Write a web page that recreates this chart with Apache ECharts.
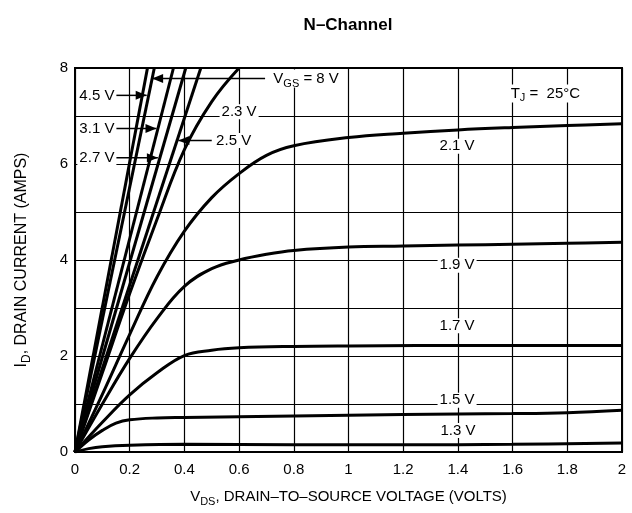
<!DOCTYPE html>
<html><head><meta charset="utf-8">
<script src="https://cdn.jsdelivr.net/npm/echarts@6/dist/echarts.min.js"></script>
<style>html,body{margin:0;padding:0;background:#fff}#c{width:632px;height:513px}</style>
</head><body><div id="c"></div>
<script>
// ---- data ----
const xTickLabels = ['0','0.2','0.4','0.6','0.8','1','1.2','1.4','1.6','1.8','2'];
const yTickLabels = ['0','','2','','4','','6','','8'];
const seriesNames = ['8 V','4.5 V','3.1 V','2.7 V','2.5 V','2.3 V','2.1 V','1.9 V','1.7 V','1.5 V','1.3 V'];
const vgs8V   = [[0,0],[0.265,8]];
const vgs4_5V = [[0,0],[0.29,8]];
const vgs3_1V = [[0,0],[0.36,8]];
const vgs2_7V = [[0,0],[0.405,8]];
const vgs2_5V = [[0,0],[0.46,8]];
const vgs2_3V = [[0,0],[0.1,1.65],[0.2,3.3],[0.3,4.85],[0.4,6.3],[0.5,7.3],[0.6,8]];
const vgs2_1V = [[0,0],[0.1,1.2],[0.2,2.45],[0.3,3.65],[0.4,4.6],[0.5,5.3],[0.6,5.8],[0.7,6.18],[0.8,6.38],[1.0,6.55],[1.2,6.64],[1.4,6.71],[1.6,6.76],[1.8,6.8],[2.0,6.84]];
const vgs1_9V = [[0,0],[0.1,1.0],[0.2,1.95],[0.3,2.78],[0.4,3.45],[0.5,3.82],[0.6,4.0],[0.7,4.12],[0.8,4.2],[1.0,4.27],[1.2,4.29],[1.4,4.31],[1.6,4.33],[1.8,4.35],[2.0,4.37]];
const vgs1_7V = [[0,0],[0.1,0.62],[0.2,1.19],[0.3,1.65],[0.4,2.01],[0.5,2.12],[0.6,2.17],[0.8,2.2],[1.0,2.21],[1.5,2.22],[2.0,2.22]];
const vgs1_5V = [[0,0],[0.05,0.25],[0.1,0.45],[0.15,0.6],[0.2,0.67],[0.3,0.71],[0.4,0.72],[0.8,0.75],[1.2,0.78],[1.6,0.8],[1.8,0.82],[2.0,0.87]];
const vgs1_3V = [[0,0],[0.05,0.07],[0.1,0.11],[0.2,0.14],[0.4,0.16],[0.8,0.15],[1.2,0.15],[1.6,0.16],[2.0,0.19]];
const allCurves = [vgs8V,vgs4_5V,vgs3_1V,vgs2_7V,vgs2_5V,vgs2_3V,vgs2_1V,vgs1_9V,vgs1_7V,vgs1_5V,vgs1_3V];

// ---- annotations (data coordinates) ----
const annoLabels = [
  {text:'{n|V}{s|GS}{n| = 8 V}', x:0.845, y:7.78},
  {text:'{n|T}{s|J}{n| =  25°C}', x:1.72, y:7.47},
  {text:'4.5 V', x:0.08, y:7.43},
  {text:'3.1 V', x:0.08, y:6.74},
  {text:'2.7 V', x:0.08, y:6.13},
  {text:'2.3 V', x:0.6, y:7.09},
  {text:'2.5 V', x:0.58, y:6.49},
  {text:'2.1 V', x:1.397, y:6.37},
  {text:'1.9 V', x:1.397, y:3.89},
  {text:'1.7 V', x:1.397, y:2.63},
  {text:'1.5 V', x:1.397, y:1.08},
  {text:'1.3 V', x:1.4, y:0.45}
];
const annoArrows = [
  {from:[0.695,7.78], to:[0.282,7.78]},
  {from:[0.15,7.43], to:[0.262,7.43]},
  {from:[0.15,6.74], to:[0.298,6.74]},
  {from:[0.15,6.13], to:[0.303,6.13]},
  {from:[0.50,6.49], to:[0.378,6.49]}
];

const FONT = '"Liberation Sans", Arial, sans-serif';
const rich = {
  n: {fontSize:15, fontFamily:FONT, color:'#000', lineHeight:18},
  s: {fontSize:11, fontFamily:FONT, color:'#000', lineHeight:11, padding:[10,0,0,0]}
};
const richY = {
  n: {fontSize:16, fontFamily:FONT, color:'#000', lineHeight:19},
  s: {fontSize:12, fontFamily:FONT, color:'#000', lineHeight:12, padding:[10,0,0,0]}
};

const chart = echarts.init(document.getElementById('c'), null, {renderer:'canvas'});
chart.setOption({
  animation:false,
  backgroundColor:'#fff',
  grid:{left:75, right:10, top:68, bottom:61, show:true, borderColor:'#000', borderWidth:2, backgroundColor:'transparent'},
  xAxis:{
    type:'value', min:0, max:2, interval:0.2,
    axisLine:{show:false}, axisTick:{show:false},
    splitLine:{show:true, lineStyle:{color:'#000', width:1.2}},
    axisLabel:{margin:10, fontSize:15, fontFamily:FONT, color:'#000',
      formatter:(v)=>xTickLabels[Math.round(v/0.2)] || ''},
    name:'{n|V}{s|DS}{n|, DRAIN–TO–SOURCE VOLTAGE (VOLTS)}',
    nameLocation:'middle', nameGap:36,
    nameTextStyle:{rich:rich}
  },
  yAxis:{
    type:'value', min:0, max:8, interval:1,
    axisLine:{show:false}, axisTick:{show:false},
    splitLine:{show:true, lineStyle:{color:'#000', width:1.2}},
    axisLabel:{margin:7, fontSize:15, fontFamily:FONT, color:'#000',
      formatter:(v)=>yTickLabels[Math.round(v)] || ''},
    name:'{n|I}{s|D}{n|, DRAIN CURRENT (AMPS)}',
    nameLocation:'middle', nameGap:44, nameRotate:90,
    nameTextStyle:{rich:richY}
  },
  series: allCurves.map((d,i)=>({
    name:seriesNames[i], type:'line', data:d, showSymbol:false,
    smooth:0.4, clip:true,
    lineStyle:{color:'#000', width:3}
  }))
});

function px(p){ return chart.convertToPixel({gridIndex:0}, p); }
const g = [];
g.push({type:'text', x:348, y:25, style:{text:'N–Channel', font:'bold 17px '+FONT, fill:'#000', align:'center', verticalAlign:'middle'}, z:100});
annoArrows.forEach(a=>{
  const f = px(a.from), t = px(a.to);
  g.push({type:'line', shape:{x1:f[0], y1:f[1], x2:t[0], y2:t[1]}, style:{stroke:'#000', lineWidth:1.5}, z:90});
  const dx = t[0]-f[0], dy = t[1]-f[1], L = Math.hypot(dx,dy);
  const ux = dx/L, uy = dy/L, len = 11, w = 4.5;
  const bx = t[0]-ux*len, by = t[1]-uy*len;
  g.push({type:'polygon', shape:{points:[[t[0],t[1]],[bx-uy*w,by+ux*w],[bx+uy*w,by-ux*w]]}, style:{fill:'#000'}, z:91});
});
annoLabels.forEach(l=>{
  const p = px([l.x,l.y]);
  g.push({type:'text', x:p[0], y:p[1], z:95, style:{text:l.text, align:'center', verticalAlign:'middle',
    font:'15px '+FONT, fill:'#000', backgroundColor:'#fff', padding:[0,2], rich:rich}});
});
chart.setOption({graphic:g});
</script>
</body></html>
